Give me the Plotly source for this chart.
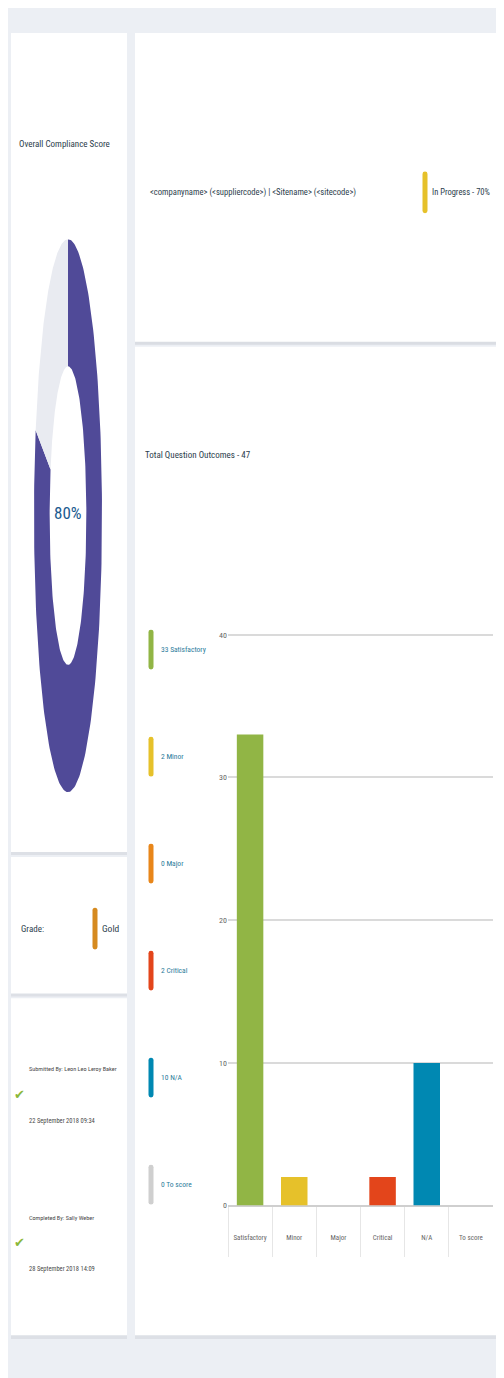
import numpy as np
import plotly.graph_objects as go

# ---------------- data ----------------
categories = ["Satisfactory", "Minor", "Major", "Critical", "N/A", "To score"]
counts = [33, 2, 0, 2, 10, 0]
bar_colors = ["#91b545", "#e6c12a", "#e8861a", "#e3451b", "#0088b2", "#cfcfcf"]
y_ticks = [0, 10, 20, 30, 40]
total_outcomes = 47
compliance_score = 80
grade = "Gold"
status_label = "In Progress"
status_pct = 70
header_text = "&lt;companyname&gt; (&lt;suppliercode&gt;) | &lt;Sitename&gt; (&lt;sitecode&gt;)"
history = [
    ("Submitted By: Leon Leo Leroy Baker", "22 September 2018 09:34"),
    ("Completed By: Sally Weber", "28 September 2018 14:09"),
]

# page offset (body margin) and figure size
OX, OY = 8, 8
FW, FH = 496, 1370
FONT = "Roboto Condensed, Roboto, sans-serif"


def fx(x):
    return (x - OX) / FW


def fy(y):
    return 1 - (y - OY) / FH


def rect(x0, y0, x1, y1, color, layer="below"):
    return dict(type="rect", xref="paper", yref="paper", x0=fx(x0), x1=fx(x1), y0=fy(y1), y1=fy(y0),
                fillcolor=color, line=dict(width=0), layer=layer)


def pill(cx, cy, w, h, color):
    l, r, t, b, rad = cx - w / 2, cx + w / 2, cy - h / 2, cy + h / 2, w / 2
    pts = lambda x, y: f"{fx(x):.5f},{fy(y):.5f}"
    path = (f"M {pts(l, t + rad)} Q {pts(l, t)} {pts(cx, t)} Q {pts(r, t)} {pts(r, t + rad)} "
            f"L {pts(r, b - rad)} Q {pts(r, b)} {pts(cx, b)} Q {pts(l, b)} {pts(l, b - rad)} Z")
    return dict(type="path", xref="paper", yref="paper", path=path, fillcolor=color,
                line=dict(width=0), layer="above")


def text(x, y, s, size, color, anchor="left", family=FONT):
    return dict(x=fx(x), y=fy(y), xref="paper", yref="paper", text=s, showarrow=False,
                xanchor=anchor, yanchor="middle", font=dict(family=family, size=size, color=color))


fig = go.Figure()

# ---------------- bar chart ----------------
fig.add_trace(go.Bar(x=categories, y=counts, marker=dict(color=bar_colors, line=dict(width=0)),
                     width=0.6, hoverinfo="x+y", showlegend=False))

# ---------------- donut (elliptical, drawn in its own axes) ----------------
frac = compliance_score / 100.0
r_in = 0.54


def ring(a0, a1, n=200):
    t = np.linspace(a0, a1, n)
    xo, yo = np.cos(t), np.sin(t)
    xi, yi = r_in * np.cos(t[::-1]), r_in * np.sin(t[::-1])
    return np.concatenate([xo, xi, xo[:1]]), np.concatenate([yo, yi, yo[:1]])


start = np.pi / 2
end = start - 2 * np.pi * frac
xs, ys = ring(start, end)
fig.add_trace(go.Scatter(x=xs, y=ys, fill="toself", fillcolor="#504a98", mode="lines",
                         line=dict(width=0, color="#504a98"), xaxis="x2", yaxis="y2",
                         hoverinfo="skip", showlegend=False))
xs, ys = ring(end, start - 2 * np.pi)
fig.add_trace(go.Scatter(x=xs, y=ys, fill="toself", fillcolor="#e9ebf1", mode="lines",
                         line=dict(width=0, color="#e9ebf1"), xaxis="x2", yaxis="y2",
                         hoverinfo="skip", showlegend=False))

# ---------------- layout: cards ----------------
shapes = [
    # shadows
    rect(11, 35, 127, 858, "#dde0e6"),
    rect(11, 862, 127, 1000, "#dde0e6"),
    rect(11, 1004, 127, 1344, "#dde0e6"),
    rect(135, 35, 501, 346, "#dadde3"),
    rect(135, 350, 501, 1344, "#dde0e6"),
    # cards
    rect(11, 33, 127, 855, "#ffffff"),
    rect(11, 860, 127, 997, "#ffffff"),
    rect(11, 1002, 127, 1340, "#ffffff"),
    rect(135, 33, 500, 343, "#ffffff"),
    rect(135, 348, 500, 1340, "#ffffff"),
]

annotations = [
    text(64, 145, "Overall Compliance Score", 9, "#2c3e4c", anchor="center"),
    text(68, 515, f"{compliance_score}%", 17, "#1c5b8f", anchor="center"),
    text(148, 193, header_text, 8.6, "#2c3e4c"),
    text(430, 193, f"{status_label} - {status_pct}%", 8.5, "#2c3e4c"),
    text(143, 457, f"Total Question Outcomes - {total_outcomes}", 9, "#2c3e4c"),
    text(19, 932, "Grade:", 9, "#2c3e4c"),
    text(100, 932, grade, 9.5, "#2c3e4c"),
]
shapes.append(pill(425, 193, 5, 42, "#e6c12a"))
shapes.append(pill(95, 932, 5, 42, "#d68a1f"))

# legend on the left of the bars
for i, (cat, n, col) in enumerate(zip(categories, counts, bar_colors)):
    cy = 652 + 107.4 * i
    shapes.append(pill(151, cy, 5, 40, col))
    annotations.append(text(159, cy, f"{n} {cat}", 7.5, "#2a7b9b"))

# submission history
for i, (who, when) in enumerate(history):
    base = 1073 + 149 * i
    annotations.append(text(27, base, who, 6.2, "#4a4a4a"))
    annotations.append(text(27, base + 52, when, 6.5, "#4a4a4a"))
    annotations.append(text(19, base + 25, "\u2714", 13, "#8ab83a", anchor="center",
                            family="DejaVu Sans, sans-serif"))

y_top = 40.3
fig.update_layout(
    width=FW, height=FH, margin=dict(l=0, r=0, t=0, b=0),
    paper_bgcolor="#eceff4", plot_bgcolor="rgba(0,0,0,0)",
    shapes=shapes, annotations=annotations, bargap=0.4,
    font=dict(family=FONT, color="#666666"),
    xaxis=dict(domain=[fx(228), fx(493)], type="category", showgrid=False, zeroline=False,
               ticks="outside", ticklen=50, tickcolor="#e6e6e6", tickwidth=1, tickson="boundaries",
               ticklabelstandoff=26, tickfont=dict(size=7, color="#666666"), showline=False,
               fixedrange=True),
    yaxis=dict(domain=[fy(1210), fy(1210 - y_top * (1210 - 637) / 40)], range=[0, y_top],
               tickvals=y_ticks, showgrid=True,
               gridcolor="#dadada", gridwidth=1.5, zeroline=True, zerolinecolor="#cfcfcf",
               zerolinewidth=2, ticks="", tickfont=dict(size=8, color="#666666"), showline=False,
               fixedrange=True),
    xaxis2=dict(domain=[fx(34), fx(102)], range=[-1, 1], visible=False, fixedrange=True),
    yaxis2=dict(domain=[fy(795), fy(240)], range=[-1, 1], visible=False, fixedrange=True),
)

fig.write_html("out.html")
